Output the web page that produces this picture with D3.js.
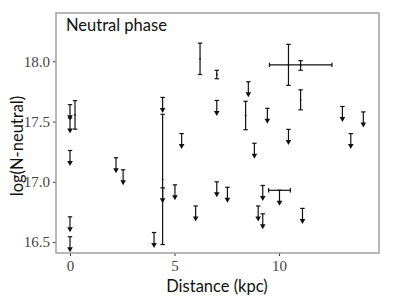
<!DOCTYPE html>
<html><head><meta charset="utf-8">
<script src="https://cdn.jsdelivr.net/npm/d3@7"></script>
<style>body{margin:0;background:#fff}svg{display:block}</style>
</head><body>
<script>
// Upper limits (value is an upper limit, arrow points down)
const limX = [0, 0, 0, 0, 0, 2.2, 2.54, 4.02, 4.43, 4.43, 5.02, 5.34, 6.01, 7.02, 7.02, 7.53, 8.53, 8.82, 9.0, 9.22, 9.22, 9.44, 10.45, 11.12, 13.03, 13.43, 14.03, 10.02];
const limY = [17.64, 17.53, 17.26, 16.71, 16.545, 17.2, 17.1, 16.58, 17.70, 16.95, 16.975, 17.40, 16.80, 17.675, 17.0, 16.955, 17.83, 17.32, 16.80, 16.97, 16.735, 17.61, 17.435, 16.78, 17.625, 17.40, 17.58, 16.93];
const limXerr = [0, 0, 0, 0, 0, 0, 0, 0, 0, 0, 0, 0, 0, 0, 0, 0, 0, 0, 0, 0, 0, 0, 0, 0, 0, 0, 0, 0.52];
// Measurements with error bars
const detX = [0.24, 4.43, 6.22, 7.02, 8.4, 10.45, 11.03, 11.03];
const detY = [17.555, 17.02, 18.02, 17.89, 17.55, 17.97, 17.965, 17.68];
const detYerr = [0.118, 0.54, 0.13, 0.035, 0.118, 0.17, 0.04, 0.083];
const detXerrLo = [0, 0, 0, 0, 0, 0.91, 0, 0];
const detXerrHi = [0, 0, 0, 0, 0, 2.08, 0, 0];
const xTicks = [0, 5, 10];
const yTicks = [16.5, 17.0, 17.5, 18.0];

const W = 399, H = 299;
const L = 56, R = 379, T = 13, B = 253;
const svg = d3.select("body").append("svg").attr("width", W).attr("height", H);
const x = d3.scaleLinear().domain([-0.67, 14.78]).range([L, R]);
const y = d3.scaleLinear().domain([16.41, 18.40]).range([B, T]);
const ink = "#111";
const serif = "'Liberation Serif', 'DejaVu Serif', serif";
const sans = "Lato, 'Open Sans', sans-serif";

// axes
const xa = svg.append("g").attr("transform", `translate(0,${B})`)
  .call(d3.axisBottom(x).tickValues(xTicks).tickFormat(d3.format("d")).tickSizeOuter(0).tickSizeInner(3).tickPadding(4));
const ya = svg.append("g").attr("transform", `translate(${L},0)`)
  .call(d3.axisLeft(y).tickValues(yTicks).tickFormat(d3.format(".1f")).tickSizeOuter(0).tickSizeInner(3).tickPadding(3));
[xa, ya].forEach(a => {
  a.select(".domain").remove();
  a.selectAll(".tick line").attr("stroke", "#333");
  a.selectAll(".tick text").attr("font-family", serif).attr("font-size", 15).attr("fill", "#444");
});

// frame
svg.append("rect").attr("x", L).attr("y", T).attr("width", R - L).attr("height", B - T)
  .attr("fill", "none").attr("stroke", "#a0a0a0").attr("stroke-width", 1.5);

const g = svg.append("g").attr("stroke", ink).attr("stroke-width", 1.2).attr("fill", ink);
const cap = 2.2, arrowLen = 15.5, ah = 5, aw = 2.8;

// detections
detX.forEach((dx, i) => {
  const cx = x(dx), cy = y(detY[i]);
  const y1 = y(detY[i] + detYerr[i]), y2 = y(detY[i] - detYerr[i]);
  g.append("line").attr("x1", cx).attr("x2", cx).attr("y1", y1).attr("y2", y2);
  g.append("line").attr("x1", cx - cap).attr("x2", cx + cap).attr("y1", y1).attr("y2", y1);
  g.append("line").attr("x1", cx - cap).attr("x2", cx + cap).attr("y1", y2).attr("y2", y2);
  if (detXerrLo[i] > 0 || detXerrHi[i] > 0) {
    const x1 = x(dx - detXerrLo[i]), x2 = x(dx + detXerrHi[i]);
    g.append("line").attr("x1", x1).attr("x2", x2).attr("y1", cy).attr("y2", cy);
    g.append("line").attr("x1", x1).attr("x2", x1).attr("y1", cy - cap).attr("y2", cy + cap);
    g.append("line").attr("x1", x2).attr("x2", x2).attr("y1", cy - cap).attr("y2", cy + cap);
  }
  g.append("circle").attr("cx", cx).attr("cy", cy).attr("r", 0.9).attr("stroke", "none");
});

// upper limits
limX.forEach((lx, i) => {
  const cx = x(lx), cy = y(limY[i]);
  const tip = cy + arrowLen;
  g.append("line").attr("x1", cx).attr("x2", cx).attr("y1", cy).attr("y2", tip - ah + 1);
  g.append("line").attr("x1", cx - cap).attr("x2", cx + cap).attr("y1", cy).attr("y2", cy);
  g.append("path").attr("stroke", "none")
    .attr("d", `M${cx - aw},${tip - ah}L${cx + aw},${tip - ah}L${cx},${tip}Z`);
  if (limXerr[i] > 0) {
    const x1 = x(lx - limXerr[i]), x2 = x(lx + limXerr[i]);
    g.append("line").attr("x1", x1).attr("x2", x2).attr("y1", cy).attr("y2", cy);
    g.append("line").attr("x1", x1).attr("x2", x1).attr("y1", cy - cap).attr("y2", cy + cap);
    g.append("line").attr("x1", x2).attr("x2", x2).attr("y1", cy - cap).attr("y2", cy + cap);
  }
});

// labels
svg.append("text").attr("x", 66).attr("y", 31).attr("font-family", sans).attr("font-size", 16.5)
  .attr("fill", "#111").text("Neutral phase");
svg.append("text").attr("x", 217).attr("y", 292).attr("text-anchor", "middle")
  .attr("font-family", sans).attr("font-size", 16.5).attr("fill", "#111").text("Distance (kpc)");
svg.append("text").attr("transform", `translate(23,146) rotate(-90)`).attr("text-anchor", "middle")
  .attr("font-family", sans).attr("font-size", 16.5).attr("fill", "#111").text("log(N-neutral)");
</script>
</body></html>
